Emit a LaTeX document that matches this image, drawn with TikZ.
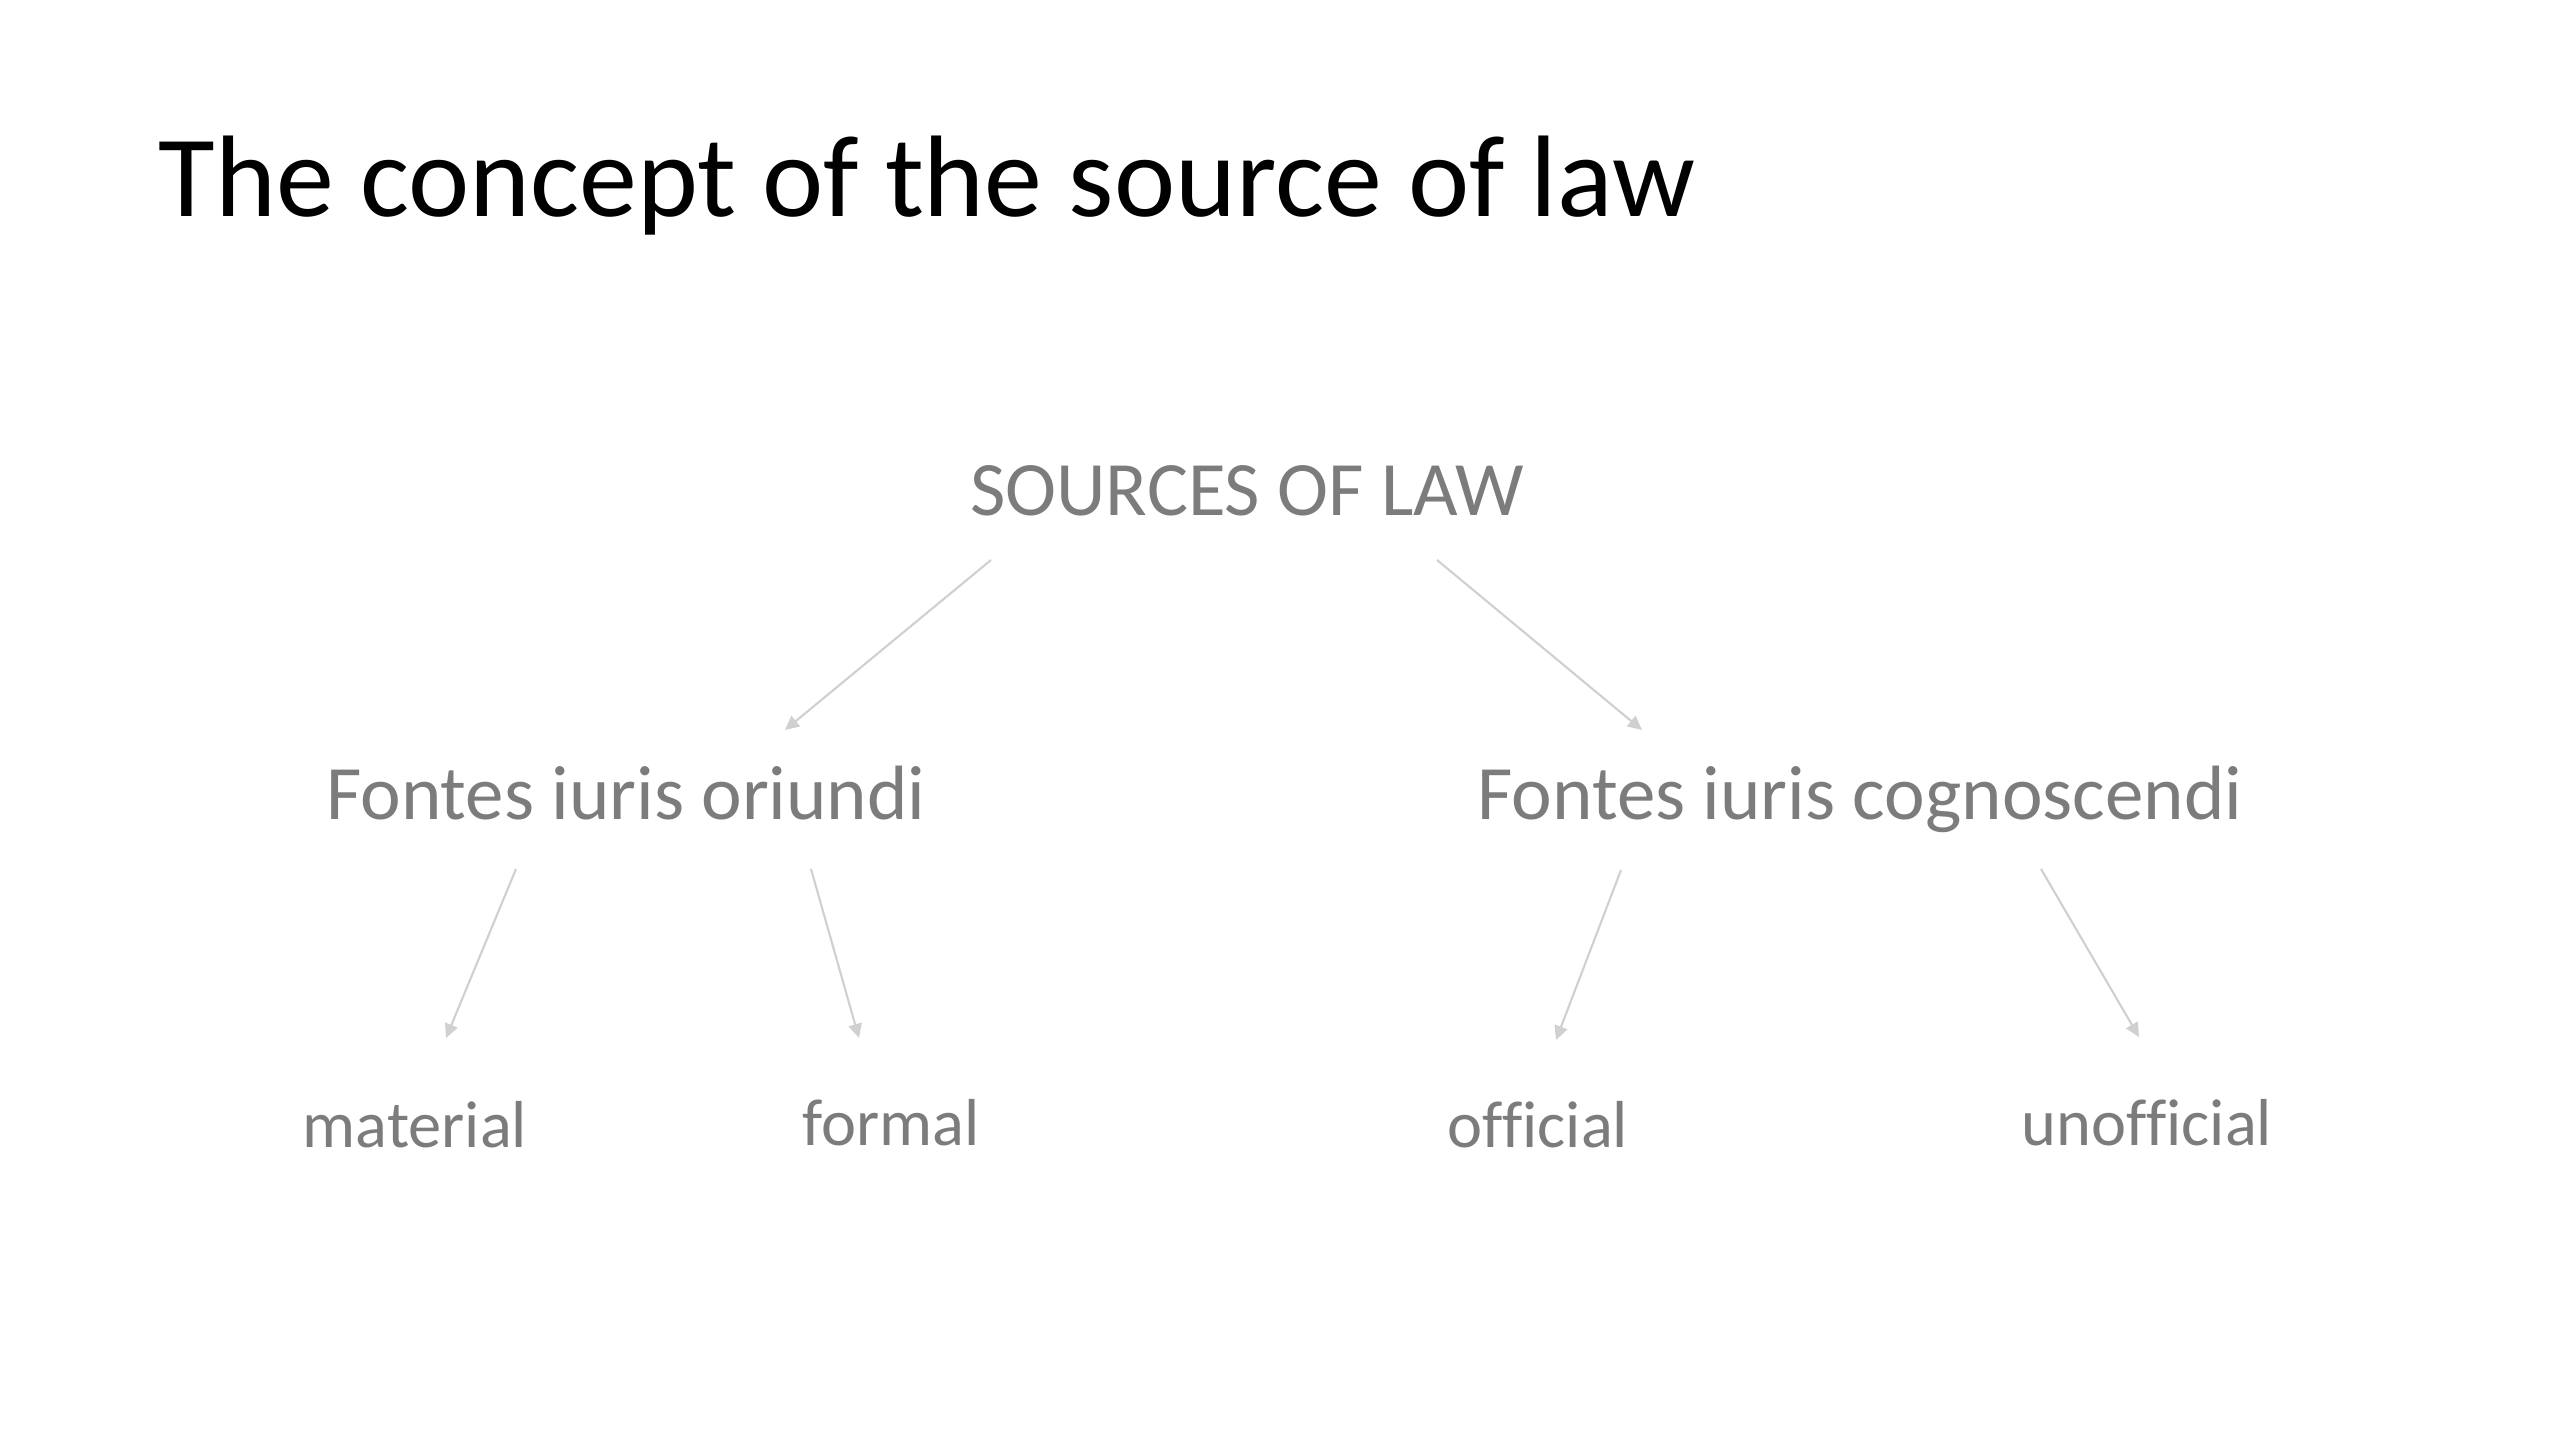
\documentclass[tikz,border=0pt]{standalone}
\usepackage{fontspec}
\setmainfont[Ligatures={NoCommon}]{Carlito}
\usetikzlibrary{arrows.meta}
\definecolor{txtgray}{RGB}{124,124,124}
\definecolor{arrgray}{RGB}{208,208,208}
\tikzset{
  titletext/.style={anchor=base west, inner sep=0pt, font=\fontsize{33}{40}\selectfont, text=black},
  lvlone/.style={anchor=base, inner sep=0pt, font=\fontsize{21.9}{26}\selectfont, text=txtgray},
  lvltwo/.style={anchor=base, inner sep=0pt, font=\fontsize{18.9}{23}\selectfont, text=txtgray},
  arr/.style={draw=arrgray, line width=0.6pt, -{Triangle[length=4pt,width=3.8pt]}}
}
\begin{document}
\begin{tikzpicture}[x=0.1mm, y=-0.1mm]
\useasboundingbox[fill=white] (0,0) rectangle (2560,1440);
\node[titletext] (title) at (158,217) {The concept of the source of law};
\node[lvlone] (src) at (1247,516) {SOURCES OF LAW};
\node[lvlone] (ori) at (626,820) {Fontes iuris oriundi};
\node[lvlone] (cog) at (1860,820) {Fontes iuris cognoscendi};
\node[lvltwo] (mat) at (415,1147) {material};
\node[lvltwo] (for) at (891,1145) {formal};
\node[lvltwo] (off) at (1538,1147) {official};
\node[lvltwo] (uno) at (2147,1145) {unofficial};
\coordinate (s1) at (991,560);  \coordinate (e1) at (785,730);
\coordinate (s2) at (1437,560); \coordinate (e2) at (1642,730);
\coordinate (s3) at (516,869);  \coordinate (e3) at (446,1038);
\coordinate (s4) at (811,869);  \coordinate (e4) at (859,1038);
\coordinate (s5) at (1621,870); \coordinate (e5) at (1556,1040);
\coordinate (s6) at (2041,869); \coordinate (e6) at (2139,1037);
\draw[arr] (s1) -- (e1);
\draw[arr] (s2) -- (e2);
\draw[arr] (s3) -- (e3);
\draw[arr] (s4) -- (e4);
\draw[arr] (s5) -- (e5);
\draw[arr] (s6) -- (e6);
\end{tikzpicture}
\end{document}
